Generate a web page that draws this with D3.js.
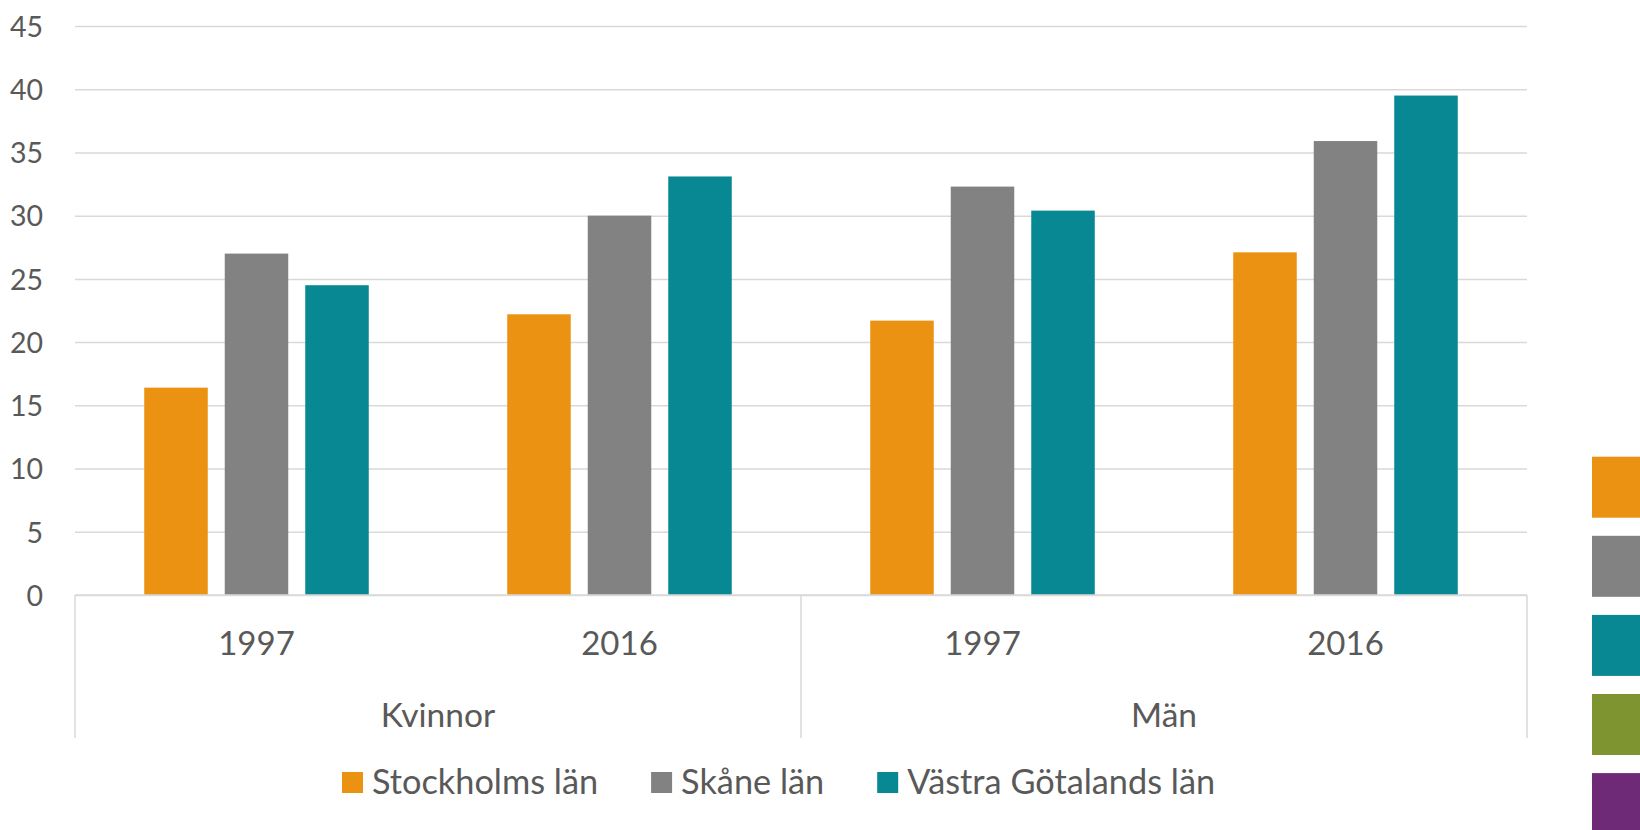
<!DOCTYPE html>
<html>
<head>
<meta charset="utf-8">
<script src="https://cdn.jsdelivr.net/npm/d3@7"></script>
<style>
  html, body { margin: 0; padding: 0; background: #ffffff; }
  svg { display: block; }
  text { font-family: Lato, "Open Sans", sans-serif; fill: #595959; }
</style>
</head>
<body>
<svg id="chart" width="1640" height="830"></svg>
<script>
// ---- data ----
const groups = ["Kvinnor", "Män"];
const years = ["1997", "2016"];
const seriesNames = ["Stockholms län", "Skåne län", "Västra Götalands län"];
const stockholm = [16.4, 22.2, 21.7, 27.1];
const skane = [27.0, 30.0, 32.3, 35.9];
const vastra = [24.5, 33.1, 30.4, 39.5];
const yTicks = [0, 5, 10, 15, 20, 25, 30, 35, 40, 45];
const seriesColors = ["#EC9213", "#828282", "#088892"];
const sidePalette = ["#EC9213", "#828282", "#088892", "#7E9431", "#6E2A77"];

// categories (group + year)
const categories = [];
groups.forEach(g => years.forEach(yr => categories.push({ key: g + "|" + yr, group: g, year: yr })));
const seriesValues = [stockholm, skane, vastra];
const rows = categories.map((c, i) => ({
  key: c.key, year: c.year, group: c.group,
  values: seriesNames.map((s, j) => ({ series: s, value: seriesValues[j][i], color: seriesColors[j] }))
}));

// ---- layout ----
const svg = d3.select("#chart");
const mLeft = 75, mRight = 1527, mTop = 26, mBottom = 595;
const axisBottomEnd = 738;

const x0 = d3.scaleBand().domain(categories.map(c => c.key)).range([mLeft, mRight]).paddingInner(0).paddingOuter(0);
const x1 = d3.scaleBand().domain(seriesNames).range([0, x0.bandwidth()]).paddingInner(0.211).paddingOuter(0.86);
const xg = d3.scaleBand().domain(groups).range([mLeft, mRight]);
const y = d3.scaleLinear().domain([0, 45]).range([mBottom, mTop]);

// y axis with gridlines
const yAxis = svg.append("g")
  .attr("transform", `translate(${mLeft},0)`)
  .call(d3.axisLeft(y).tickValues(yTicks).tickSizeInner(-(mRight - mLeft)).tickSizeOuter(0).tickPadding(32));
yAxis.select(".domain").remove();
yAxis.selectAll(".tick line").attr("stroke", "#d9d9d9").attr("stroke-width", 1.5);
yAxis.selectAll(".tick text")
  .attr("font-size", 28.5)
  .attr("fill", "#595959")
  .attr("dy", "0.36em")
  .style("font-family", "Lato, 'Open Sans', sans-serif");

// bars
const catG = svg.append("g").selectAll("g").data(rows).join("g")
  .attr("transform", d => `translate(${x0(d.key)},0)`);
catG.selectAll("rect").data(d => d.values).join("rect")
  .attr("x", d => x1(d.series))
  .attr("width", x1.bandwidth())
  .attr("y", d => y(d.value))
  .attr("height", d => y(0) - y(d.value))
  .attr("fill", d => d.color);

// category axis line
svg.append("line")
  .attr("x1", mLeft).attr("x2", mRight).attr("y1", mBottom).attr("y2", mBottom)
  .attr("stroke", "#d9d9d9").attr("stroke-width", 1.5);

// group dividers
const dividers = groups.map(g => xg(g)).concat([mRight]);
svg.append("g").selectAll("line").data(dividers).join("line")
  .attr("x1", d => d).attr("x2", d => d)
  .attr("y1", mBottom).attr("y2", axisBottomEnd)
  .attr("stroke", "#d9d9d9").attr("stroke-width", 1.5);

// year labels
const yearAxis = svg.append("g")
  .attr("transform", `translate(0,${mBottom})`)
  .call(d3.axisBottom(x0).tickSize(0).tickPadding(0).tickFormat(k => k.split("|")[1]));
yearAxis.select(".domain").remove();
yearAxis.selectAll(".tick text")
  .attr("y", 60).attr("dy", 0)
  .attr("font-size", 33)
  .attr("fill", "#595959")
  .style("font-family", "Lato, 'Open Sans', sans-serif");

// group labels
const groupAxis = svg.append("g")
  .attr("transform", `translate(0,${mBottom})`)
  .call(d3.axisBottom(xg).tickSize(0).tickPadding(0));
groupAxis.select(".domain").remove();
groupAxis.selectAll(".tick text")
  .attr("y", 132).attr("dy", 0)
  .attr("font-size", 33.5)
  .attr("fill", "#595959")
  .style("font-family", "Lato, 'Open Sans', sans-serif");

// legend
const legend = svg.append("g");
let lx = 342;
seriesNames.forEach((s, i) => {
  const it = legend.append("g").attr("transform", `translate(${lx},0)`);
  it.append("rect").attr("x", 0).attr("y", 772).attr("width", 21).attr("height", 21).attr("fill", seriesColors[i]);
  const t = it.append("text").attr("x", 30).attr("y", 794).attr("font-size", 34.3).text(s);
  const w = t.node().getComputedTextLength();
  lx += 30 + w + 53;
});

// side swatches at right edge
svg.append("g").selectAll("rect").data(sidePalette).join("rect")
  .attr("x", 1592)
  .attr("y", (d, i) => 456.7 + i * 79.1)
  .attr("width", 60)
  .attr("height", 61)
  .attr("fill", d => d);
</script>
</body>
</html>
